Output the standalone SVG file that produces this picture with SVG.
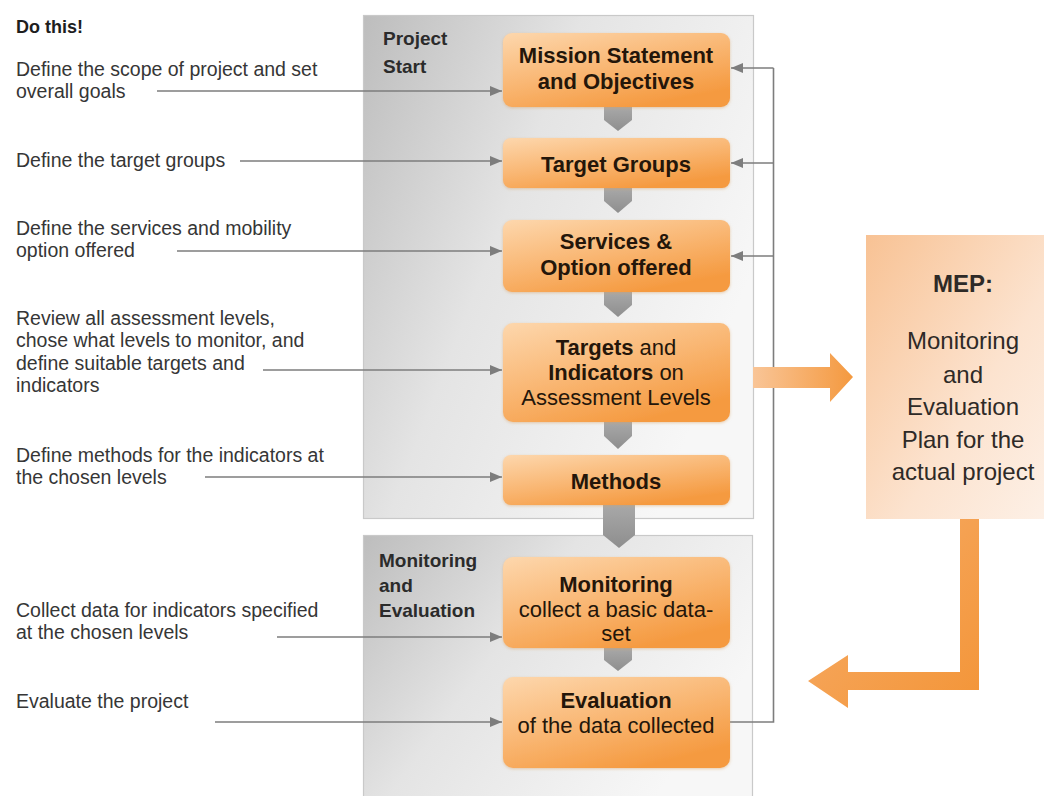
<svg xmlns="http://www.w3.org/2000/svg" width="1044" height="796" viewBox="0 0 1044 796">
<defs>
<linearGradient id="panel" x1="0" y1="0" x2="1" y2="0.5">
<stop offset="0" stop-color="#bdbdbd"/>
<stop offset="0.45" stop-color="#e4e4e4"/>
<stop offset="1" stop-color="#f7f7f7"/>
</linearGradient>
<linearGradient id="box" x1="0" y1="0" x2="0.6" y2="1">
<stop offset="0" stop-color="#fdd7ad"/>
<stop offset="0.55" stop-color="#f9b672"/>
<stop offset="1" stop-color="#f59a40"/>
</linearGradient>
<linearGradient id="mep" x1="0" y1="0" x2="1" y2="1">
<stop offset="0" stop-color="#f8c294"/>
<stop offset="0.6" stop-color="#fce3cf"/>
<stop offset="1" stop-color="#fdf0e6"/>
</linearGradient>
<linearGradient id="bigR" x1="0" y1="0" x2="1" y2="0">
<stop offset="0" stop-color="#f9c597"/>
<stop offset="1" stop-color="#f4993f"/>
</linearGradient>
<linearGradient id="bigL" x1="0" y1="0" x2="1" y2="1">
<stop offset="0" stop-color="#f7ad6a"/>
<stop offset="1" stop-color="#f39538"/>
</linearGradient>
<linearGradient id="chev" x1="0" y1="0" x2="0" y2="1">
<stop offset="0" stop-color="#a8a8a8"/>
<stop offset="1" stop-color="#8e8e8e"/>
</linearGradient>
<marker id="ah" markerWidth="12" markerHeight="10" refX="12" refY="5" orient="auto" markerUnits="userSpaceOnUse">
<path d="M0,0 L12,5 L0,10 z" fill="#7d7d7d"/>
</marker>
<filter id="sh" x="-5%" y="-5%" width="110%" height="115%">
<feDropShadow dx="0" dy="1" stdDeviation="1.5" flood-color="#d9a060" flood-opacity="0.5"/>
</filter>
</defs>
<style>
.lt{font-family:"Liberation Sans",Arial,sans-serif;font-size:19.5px;fill:#363636;}
.hd{font-family:"Liberation Sans",Arial,sans-serif;font-size:18px;font-weight:bold;fill:#1e1e1e;}
.pl{font-family:"Liberation Sans",Arial,sans-serif;font-size:19px;font-weight:bold;fill:#2b2b2b;}
.bt{font-family:"Liberation Sans",Arial,sans-serif;font-size:22px;fill:#24160a;text-anchor:middle;}
.b{font-weight:bold;}
.mt{font-family:"Liberation Sans",Arial,sans-serif;font-size:24px;fill:#2e2a27;text-anchor:middle;}
.obox{fill:url(#box);}
.ln{stroke:#7d7d7d;stroke-width:1.6;fill:none;}
.cv{fill:url(#chev);}
</style>

<g id="panel-project-start">
<rect x="363.5" y="15.5" width="390" height="503" fill="url(#panel)" stroke="#c9c9c9" stroke-width="1.2"/>
<text class="pl" x="383" y="45">Project</text>
<text class="pl" x="383" y="73">Start</text>
</g>
<g id="panel-monitoring-evaluation">
<rect x="363.5" y="535.5" width="389" height="262" fill="url(#panel)" stroke="#c9c9c9" stroke-width="1.2"/>
<text class="pl" x="379" y="567">Monitoring</text>
<text class="pl" x="379" y="592">and</text>
<text class="pl" x="379" y="617">Evaluation</text>
</g>

<g id="do-this">
<text class="hd" x="16" y="33">Do this!</text>
</g>

<g id="chevrons">
<polygon class="cv" points="604,107 632,107 632,120 618,131 604,120"/>
<polygon class="cv" points="604,188 632,188 632,201 618,213 604,201"/>
<polygon class="cv" points="604,292 632,292 632,305 618,317 604,305"/>
<polygon class="cv" points="604,422 632,422 632,436 618,449 604,436"/>
<polygon class="cv" points="603,505 635,505 635,535 619,548 603,535"/>
<polygon class="cv" points="604,648 632,648 632,660 618,671 604,660"/>
</g>

<g id="connectors">
<line class="ln" x1="157" y1="91" x2="502" y2="91" marker-end="url(#ah)"/>
<line class="ln" x1="240" y1="161" x2="502" y2="161" marker-end="url(#ah)"/>
<line class="ln" x1="177" y1="251" x2="502" y2="251" marker-end="url(#ah)"/>
<line class="ln" x1="263" y1="370" x2="502" y2="370" marker-end="url(#ah)"/>
<line class="ln" x1="205" y1="477" x2="502" y2="477" marker-end="url(#ah)"/>
<line class="ln" x1="277" y1="637" x2="502" y2="637" marker-end="url(#ah)"/>
<line class="ln" x1="215" y1="722" x2="502" y2="722" marker-end="url(#ah)"/>
<polyline class="ln" points="730,722 773.5,722 773.5,68"/>
<line class="ln" x1="773.5" y1="68" x2="731" y2="68" marker-end="url(#ah)"/>
<line class="ln" x1="773.5" y1="163" x2="731" y2="163" marker-end="url(#ah)"/>
<line class="ln" x1="773.5" y1="256" x2="731" y2="256" marker-end="url(#ah)"/>
<polygon id="arrow-to-mep" points="753,367 830,367 830,353 853,377 830,402 830,388 753,388" fill="url(#bigR)"/>
<polygon id="arrow-from-mep" points="960,519 979,519 979,690 848,690 848,708 808,681 848,655 848,672 960,672" fill="url(#bigL)"/>
</g>

<g id="left-texts">
<text class="lt" x="16" y="76">Define the scope of project and set</text>
<text class="lt" x="16" y="98">overall goals</text>
<text class="lt" x="16" y="167">Define the target groups</text>
<text class="lt" x="16" y="235">Define the services and mobility</text>
<text class="lt" x="16" y="257">option offered</text>
<text class="lt" x="16" y="325">Review all assessment levels,</text>
<text class="lt" x="16" y="347">chose what levels to monitor, and</text>
<text class="lt" x="16" y="370">define suitable targets and</text>
<text class="lt" x="16" y="392">indicators</text>
<text class="lt" x="16" y="462">Define methods for the indicators at</text>
<text class="lt" x="16" y="484">the chosen levels</text>
<text class="lt" x="16" y="617">Collect data for indicators specified</text>
<text class="lt" x="16" y="639">at the chosen levels</text>
<text class="lt" x="16" y="708">Evaluate the project</text>
</g>

<g id="mission">
<rect class="obox" x="503" y="33" width="227" height="74" rx="9" filter="url(#sh)"/>
<text class="bt b" x="616" y="63">Mission Statement</text>
<text class="bt b" x="616" y="89">and Objectives</text>
</g>
<g id="target-groups">
<rect class="obox" x="503" y="138" width="227" height="50" rx="8" filter="url(#sh)"/>
<text class="bt b" x="616" y="172">Target Groups</text>
</g>
<g id="services">
<rect class="obox" x="503" y="220" width="227" height="72" rx="9" filter="url(#sh)"/>
<text class="bt b" x="616" y="249">Services &amp;</text>
<text class="bt b" x="616" y="275">Option offered</text>
</g>
<g id="targets">
<rect class="obox" x="503" y="323" width="227" height="99" rx="10" filter="url(#sh)"/>
<text class="bt" x="616" y="355"><tspan class="b">Targets</tspan> and</text>
<text class="bt" x="616" y="380"><tspan class="b">Indicators</tspan> on</text>
<text class="bt" x="616" y="405">Assessment Levels</text>
</g>
<g id="methods">
<rect class="obox" x="503" y="455" width="227" height="50" rx="8" filter="url(#sh)"/>
<text class="bt b" x="616" y="489">Methods</text>
</g>
<g id="monitoring">
<rect class="obox" x="503" y="557" width="227" height="91" rx="10" filter="url(#sh)"/>
<text class="bt b" x="616" y="592">Monitoring</text>
<text class="bt" x="616" y="617">collect a basic data-</text>
<text class="bt" x="616" y="641">set</text>
</g>
<g id="evaluation">
<rect class="obox" x="503" y="677" width="227" height="91" rx="10" filter="url(#sh)"/>
<text class="bt b" x="616" y="708">Evaluation</text>
<text class="bt" x="616" y="733">of the data collected</text>
</g>

<g id="mep">
<rect x="866" y="235" width="178" height="284" fill="url(#mep)"/>
<text class="mt b" x="963" y="292">MEP:</text>
<text class="mt" x="963" y="349">Monitoring</text>
<text class="mt" x="963" y="383">and</text>
<text class="mt" x="963" y="415">Evaluation</text>
<text class="mt" x="963" y="448">Plan for the</text>
<text class="mt" x="963" y="480">actual project</text>
</g>
</svg>
